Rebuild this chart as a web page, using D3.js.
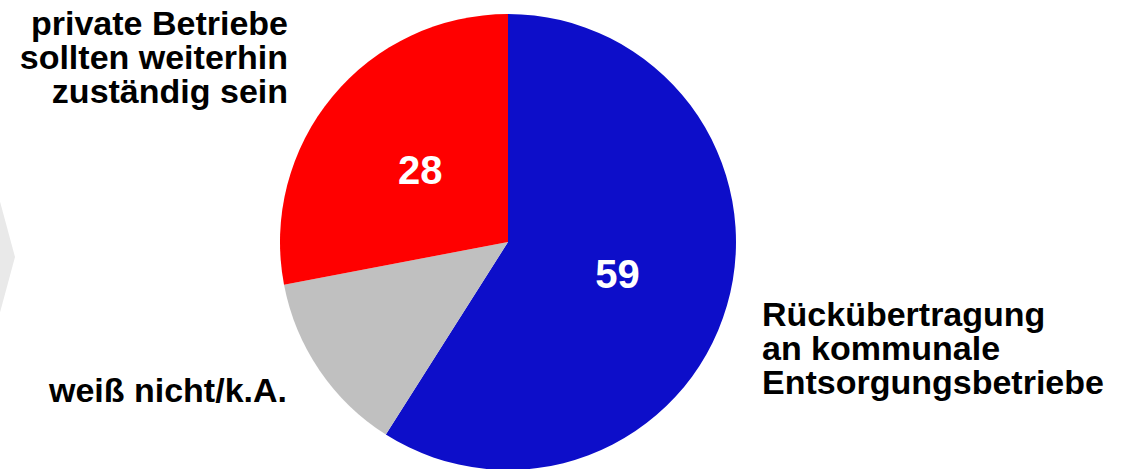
<!DOCTYPE html>
<html>
<head>
<meta charset="utf-8">
<script src="https://cdn.jsdelivr.net/npm/d3@7"></script>
<style>
  body { margin: 0; background: #fff; }
  svg { display: block; font-family: "Liberation Sans", Arial, sans-serif; font-weight: bold; }
</style>
</head>
<body>
<svg class="piesvg" width="1126" height="469"></svg>
<script>
// answers, clockwise from 12 o'clock
var categories = ["Rückübertragung an kommunale Entsorgungsbetriebe", "weiß nicht/k.A.", "private Betriebe sollten weiterhin zuständig sein"];
var values = [59, 13, 28];
var showValue = [true, false, true];
var colors = ["#0d0ec9", "#c0c0c0", "#ff0000"];

var svg = d3.select(".piesvg");

// faint chevron at the left edge
svg.append("polygon")
    .attr("points", "-60,-20 15,257 -60,534")
    .attr("fill", "#e9e9e9");

var radius = 228,
    cx = 508,
    cy = 242;

var pie = d3.pie().sort(null).value(function(d) { return d; });
var arc = d3.arc().innerRadius(0).outerRadius(radius);

var g = svg.append("g")
    .attr("transform", "translate(" + cx + "," + cy + ")");

var arcs = pie(values);

g.selectAll("path")
    .data(arcs)
    .enter()
    .append("path")
    .attr("d", arc)
    .attr("fill", function(d, i) { return colors[i]; });

g.selectAll("text.val")
    .data(arcs.filter(function(d, i) { return showValue[i]; }))
    .enter()
    .append("text")
    .attr("class", "val")
    .attr("transform", function(d) { return "translate(" + arc.centroid(d) + ")"; })
    .attr("text-anchor", "middle")
    .attr("dy", "0.36em")
    .attr("fill", "#fff")
    .style("font-size", "40px")
    .text(function(d) { return d.value; });

// category labels
var labels = [
    { lines: ["Rückübertragung", "an kommunale", "Entsorgungsbetriebe"], x: 762, y: 326, anchor: "start" },
    { lines: ["weiß nicht/k.A."], x: 287, y: 402, anchor: "end" },
    { lines: ["private Betriebe", "sollten weiterhin", "zuständig sein"], x: 288, y: 35, anchor: "end" }
];

labels.forEach(function(l) {
    var t = svg.append("text")
        .attr("x", l.x)
        .attr("y", l.y)
        .attr("text-anchor", l.anchor)
        .attr("fill", "#000")
        .style("font-size", "34px");
    l.lines.forEach(function(s, i) {
        t.append("tspan")
            .attr("x", l.x)
            .attr("dy", i == 0 ? 0 : 34)
            .text(s);
    });
});
</script>
</body>
</html>
